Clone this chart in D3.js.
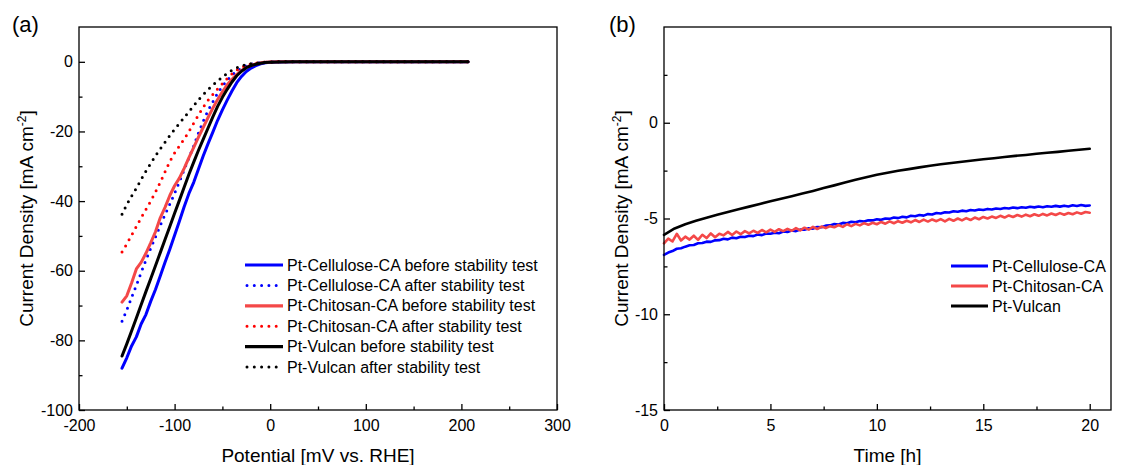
<!DOCTYPE html>
<html>
<head>
<meta charset="utf-8">
<script src="https://cdn.jsdelivr.net/npm/d3@7"></script>
<style>
body { margin: 0; background: #fff; }
svg { display: block; font-family: "Liberation Sans", Arial, sans-serif; }
</style>
</head>
<body>
<svg id="drawing_region"></svg>
<script>
// ---- (a) polarisation curves ----
const potential = [-155,-150,-145,-140,-135,-130,-125,-120,-115,-110,-105,-100,-95,-90,-85,-80,-75,-70,-65,-60,-55,-50,-45,-40,-35,-30,-25,-20,-15,-10,-5,0,10,25,50,100,150,207];
const cellulose_before = [-88.0,-85.0,-81.6,-79.0,-75.3,-72.6,-68.8,-65.4,-61.5,-57.6,-53.8,-49.8,-45.8,-41.6,-37.8,-34.6,-30.8,-27.0,-23.5,-20.2,-16.8,-13.8,-11.0,-8.4,-6.0,-4.2,-2.8,-1.8,-1.1,-0.6,-0.3,-0.15,-0.05,0,0,0,0,0];
const cellulose_after = [-74.5,-71.3,-67.7,-64.2,-60.5,-57.0,-53.6,-50.3,-47.0,-43.9,-40.9,-37.8,-34.5,-31.0,-27.6,-24.2,-20.4,-17.0,-14.0,-11.5,-9.0,-7.0,-5.3,-3.8,-2.7,-1.8,-1.1,-0.7,-0.4,-0.2,-0.1,-0.05,0,0,0,0,0,0];
const chitosan_before = [-69.0,-67.2,-63.5,-59.5,-57.6,-55.0,-52.0,-48.8,-44.8,-41.8,-38.4,-35.6,-33.4,-30.6,-27.5,-24.6,-21.6,-18.8,-16.0,-13.3,-10.8,-8.6,-6.6,-5.0,-3.6,-2.5,-1.6,-1.0,-0.6,-0.3,-0.15,-0.05,0,0,0,0,0,0];
const chitosan_after = [-54.6,-52.3,-49.8,-47.3,-44.8,-42.4,-40.0,-37.4,-34.6,-31.6,-28.6,-26.2,-24.2,-22.2,-20.0,-17.6,-15.3,-13.0,-11.0,-9.4,-7.8,-6.3,-4.8,-3.5,-2.4,-1.6,-1.0,-0.6,-0.35,-0.2,-0.1,-0.05,0,0,0,0,0,0];
const vulcan_before = [-84.5,-81.0,-77.3,-73.6,-69.8,-66.0,-62.3,-58.6,-54.8,-51.0,-47.3,-43.5,-39.8,-36.0,-32.3,-28.8,-25.4,-22.2,-19.0,-15.8,-12.8,-10.2,-7.9,-5.8,-4.0,-2.7,-1.7,-1.1,-0.7,-0.4,-0.2,-0.1,-0.05,0,0,0,0,0];
const vulcan_after = [-43.8,-41.0,-38.6,-36.3,-33.8,-31.4,-29.2,-27.0,-25.0,-23.1,-21.2,-19.4,-17.7,-16.0,-14.3,-12.6,-10.9,-9.4,-8.0,-6.7,-5.5,-4.4,-3.3,-2.4,-1.7,-1.2,-0.8,-0.55,-0.4,-0.25,-0.12,-0.05,0,0,0,0,0,0];

const lsv_xticks = [-200,-100,0,100,200,300];
const lsv_xminor = [-150,-50,50,150,250];
const lsv_yticks = [-100,-80,-60,-40,-20,0];
const lsv_yminor = [-90,-70,-50,-30,-10];

// ---- (b) chronoamperometry ----
const time_fine = [0,0.2,0.4,0.6,0.8,1,1.2,1.4,1.6,1.8,2,2.2,2.4,2.6,2.8,3,3.2,3.4,3.6,3.8,4,4.2,4.4,4.6,4.8,5,5.2,5.4,5.6,5.8,6,6.2,6.4,6.6,6.8,7,7.2,7.4,7.6,7.8,8,8.2,8.4,8.6,8.8,9,9.2,9.4,9.6,9.8,10,10.2,10.4,10.6,10.8,11,11.2,11.4,11.6,11.8,12,12.2,12.4,12.6,12.8,13,13.2,13.4,13.6,13.8,14,14.2,14.4,14.6,14.8,15,15.2,15.4,15.6,15.8,16,16.2,16.4,16.6,16.8,17,17.2,17.4,17.6,17.8,18,18.2,18.4,18.6,18.8,19,19.2,19.4,19.6,19.8,20];
const cellulose_ca = [-6.90,-6.78,-6.70,-6.58,-6.55,-6.47,-6.40,-6.38,-6.29,-6.28,-6.21,-6.22,-6.14,-6.13,-6.06,-6.09,-6.00,-6.03,-5.95,-5.97,-5.90,-5.92,-5.84,-5.87,-5.78,-5.80,-5.74,-5.77,-5.68,-5.70,-5.63,-5.66,-5.58,-5.59,-5.51,-5.53,-5.44,-5.46,-5.37,-5.36,-5.29,-5.31,-5.23,-5.25,-5.17,-5.20,-5.13,-5.16,-5.09,-5.10,-5.04,-5.07,-5.00,-5.02,-4.95,-4.98,-4.91,-4.94,-4.86,-4.88,-4.82,-4.85,-4.77,-4.79,-4.71,-4.74,-4.67,-4.69,-4.62,-4.65,-4.59,-4.62,-4.56,-4.58,-4.53,-4.56,-4.50,-4.53,-4.48,-4.50,-4.45,-4.48,-4.43,-4.46,-4.41,-4.44,-4.39,-4.42,-4.37,-4.41,-4.36,-4.39,-4.34,-4.38,-4.33,-4.37,-4.31,-4.35,-4.30,-4.34,-4.32];
const chitosan_ca = [-6.30,-6.05,-6.20,-5.80,-6.15,-5.95,-6.10,-5.90,-6.12,-5.85,-6.02,-5.78,-5.98,-5.80,-5.88,-5.70,-5.86,-5.68,-5.82,-5.66,-5.78,-5.64,-5.75,-5.60,-5.72,-5.58,-5.70,-5.56,-5.66,-5.54,-5.64,-5.50,-5.62,-5.48,-5.58,-5.44,-5.55,-5.42,-5.50,-5.40,-5.46,-5.34,-5.44,-5.30,-5.40,-5.28,-5.36,-5.24,-5.33,-5.22,-5.30,-5.18,-5.27,-5.15,-5.25,-5.14,-5.22,-5.12,-5.20,-5.08,-5.18,-5.06,-5.16,-5.05,-5.14,-5.03,-5.15,-5.02,-5.12,-5.00,-5.10,-4.98,-5.08,-4.95,-5.04,-4.92,-5.00,-4.90,-4.97,-4.86,-4.95,-4.84,-4.92,-4.82,-4.90,-4.80,-4.88,-4.78,-4.86,-4.76,-4.84,-4.74,-4.82,-4.72,-4.80,-4.71,-4.78,-4.68,-4.75,-4.66,-4.70];
const time_coarse = [0,0.5,1,1.5,2,2.5,3,3.5,4,4.5,5,5.5,6,6.5,7,7.5,8,8.5,9,9.5,10,10.5,11,11.5,12,12.5,13,13.5,14,14.5,15,15.5,16,16.5,17,17.5,18,18.5,19,19.5,20];
const vulcan_ca = [-5.85,-5.52,-5.30,-5.12,-4.96,-4.81,-4.66,-4.52,-4.38,-4.24,-4.10,-3.97,-3.84,-3.70,-3.56,-3.41,-3.27,-3.12,-2.98,-2.85,-2.72,-2.61,-2.51,-2.42,-2.33,-2.25,-2.17,-2.10,-2.04,-1.97,-1.91,-1.85,-1.79,-1.73,-1.68,-1.62,-1.57,-1.52,-1.46,-1.41,-1.36];

const ca_xticks = [0,5,10,15,20];
const ca_xminor = [2.5,7.5,12.5,17.5];
const ca_yticks = [-15,-10,-5,0];
const ca_yminor = [-12.5,-7.5,-2.5,2.5];

const zip = (xs, ys) => xs.map((x, i) => ({x: x, y: ys[i]}));

class Panel {
    constructor(config) {
        this.config = config;
        this.init();
        this.render();
    }

    init() {
        let self = this;
        let c = self.config;
        self.chart = d3.select(c.parent).append('g')
            .attr('transform', `translate(${c.left}, ${c.top})`);
        self.xscale = d3.scaleLinear().domain(c.xdomain).range([0, c.width]);
        self.yscale = d3.scaleLinear().domain(c.ydomain).range([c.height, 0]);
    }

    render() {
        let self = this;
        let c = self.config;

        const axis_style = g => {
            g.select('.domain').remove();
            g.attr('font-family', null).attr('font-size', 16);
            g.selectAll('line').attr('stroke', '#000').attr('stroke-width', 1.3);
            g.selectAll('text').attr('fill', '#000');
        };

        self.chart.append('g')
            .attr('transform', `translate(0, ${c.height})`)
            .call(d3.axisBottom(self.xscale).tickValues(c.xticks).tickFormat(d => String(d)).tickSize(-6).tickPadding(10))
            .call(axis_style);
        self.chart.append('g')
            .attr('transform', `translate(0, ${c.height})`)
            .call(d3.axisBottom(self.xscale).tickValues(c.xminor).tickFormat('').tickSize(-3.5))
            .call(axis_style);
        self.chart.append('g')
            .call(d3.axisLeft(self.yscale).tickValues(c.yticks).tickFormat(d => String(d)).tickSize(-6).tickPadding(6))
            .call(axis_style);
        self.chart.append('g')
            .call(d3.axisLeft(self.yscale).tickValues(c.yminor).tickFormat('').tickSize(-3.5))
            .call(axis_style);

        const line = d3.line()
            .x(d => self.xscale(d.x))
            .y(d => self.yscale(d.y));

        c.series.forEach(s => {
            self.chart.append('path')
                .datum(s.points)
                .attr('fill', 'none')
                .attr('stroke', s.color)
                .attr('stroke-width', s.dotted ? 3 : s.width)
                .attr('stroke-linecap', 'round')
                .attr('stroke-linejoin', 'round')
                .attr('stroke-dasharray', s.dotted ? '0 7' : null)
                .attr('d', line);
        });

        self.chart.append('rect')
            .attr('width', c.width)
            .attr('height', c.height)
            .attr('fill', 'none')
            .attr('stroke', '#000')
            .attr('stroke-width', 1.3);

        // legend
        const legend = self.chart.append('g')
            .attr('transform', `translate(${c.legend.x}, ${c.legend.y})`);
        c.series.forEach((s, i) => {
            const row = legend.append('g').attr('transform', `translate(0, ${i * c.legend.spacing})`);
            row.append('line')
                .attr('x1', s.dotted ? 2 : 0)
                .attr('x2', c.legend.len)
                .attr('stroke', s.color)
                .attr('stroke-width', s.dotted ? 3 : 3.2)
                .attr('stroke-linecap', s.dotted ? 'round' : 'butt')
                .attr('stroke-dasharray', s.dotted ? '0 7.3' : null);
            row.append('text')
                .attr('x', c.legend.len + 4)
                .attr('dy', '0.35em')
                .attr('font-size', 16)
                .text(s.label);
        });

        // axis titles
        self.chart.append('text')
            .attr('text-anchor', 'middle')
            .attr('x', c.width / 2)
            .attr('y', c.height + 52)
            .attr('font-size', 19)
            .text(c.xlabel);

        const ylab = self.chart.append('text')
            .attr('text-anchor', 'middle')
            .attr('transform', `translate(${c.ylabel_x}, ${c.height / 2}) rotate(-90)`)
            .attr('font-size', 19);
        ylab.append('tspan').text('Current Density [mA cm');
        ylab.append('tspan').attr('dy', -7).attr('font-size', 12).text('-2');
        ylab.append('tspan').attr('dy', 7).text(']');

        d3.select(c.parent).append('text')
            .attr('x', c.tag_x)
            .attr('y', 32)
            .attr('font-size', 22)
            .text(c.tag);
    }
}

d3.select('#drawing_region').attr('width', 1132).attr('height', 465);

new Panel({
    parent: '#drawing_region',
    left: 79, top: 27, width: 478, height: 383,
    xdomain: [-200, 300], ydomain: [-100, 10],
    xticks: lsv_xticks, xminor: lsv_xminor,
    yticks: lsv_yticks, yminor: lsv_yminor,
    xlabel: 'Potential [mV vs. RHE]',
    ylabel_x: -46,
    tag: '(a)', tag_x: 12,
    legend: {x: 166, y: 238, spacing: 20.4, len: 38},
    series: [
        {points: zip(potential, cellulose_before), color: '#0000ff', width: 3, dotted: false, label: 'Pt-Cellulose-CA before stability test'},
        {points: zip(potential, cellulose_after), color: '#0000ff', width: 3, dotted: true, label: 'Pt-Cellulose-CA after stability test'},
        {points: zip(potential, chitosan_before), color: '#f44848', width: 3, dotted: false, label: 'Pt-Chitosan-CA before stability test'},
        {points: zip(potential, chitosan_after), color: '#ff0000', width: 3, dotted: true, label: 'Pt-Chitosan-CA after stability test'},
        {points: zip(potential, vulcan_before), color: '#000000', width: 3, dotted: false, label: 'Pt-Vulcan before stability test'},
        {points: zip(potential, vulcan_after), color: '#000000', width: 3, dotted: true, label: 'Pt-Vulcan after stability test'}
    ]
});

new Panel({
    parent: '#drawing_region',
    left: 664, top: 27, width: 447, height: 383,
    xdomain: [0, 21], ydomain: [-15, 5],
    xticks: ca_xticks, xminor: ca_xminor,
    yticks: ca_yticks, yminor: ca_yminor,
    xlabel: 'Time [h]',
    ylabel_x: -36,
    tag: '(b)', tag_x: 609,
    legend: {x: 287, y: 239, spacing: 20, len: 37},
    series: [
        {points: zip(time_fine, cellulose_ca), color: '#0000ff', width: 2.6, dotted: false, label: 'Pt-Cellulose-CA'},
        {points: zip(time_fine, chitosan_ca), color: '#f44848', width: 2.6, dotted: false, label: 'Pt-Chitosan-CA'},
        {points: zip(time_coarse, vulcan_ca), color: '#000000', width: 2.6, dotted: false, label: 'Pt-Vulcan'}
    ]
});
</script>
</body>
</html>
